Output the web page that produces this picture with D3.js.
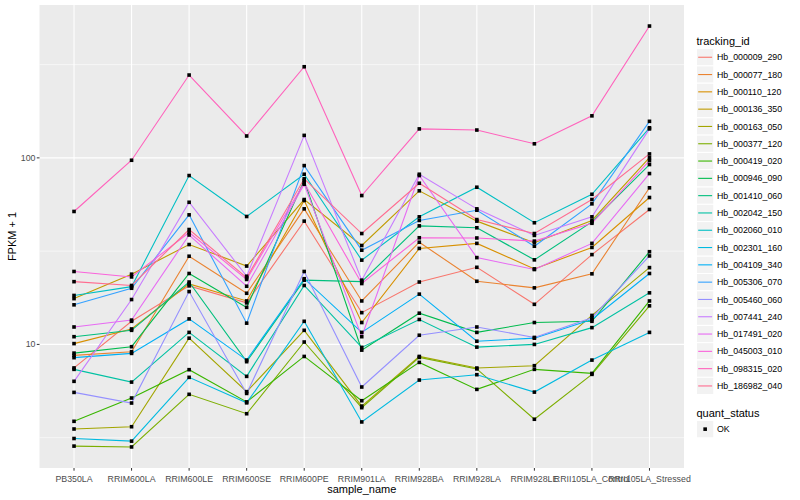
<!DOCTYPE html>
<html lang="en">
<head>
  <meta charset="UTF-8">
  <title>FPKM + 1 by sample</title>
  <script src="https://d3js.org/d3.v7.min.js"></script>
  <style>
    body { margin: 0; background: #fff; }
    text { font-family: "Liberation Sans", Arial, sans-serif; }
    .line { fill: none; stroke-width: 1.1px; }
  </style>
</head>
<body>
  <svg id="viz" width="800" height="500"></svg>

  <script>
    const samples = ["PB350LA", "RRIM600LA", "RRIM600LE", "RRIM600SE", "RRIM600PE", "RRIM901LA",
                     "RRIM928BA", "RRIM928LA", "RRIM928LE", "RRII105LA_Control", "RRII105LA_Stressed"];

    const trackingIds = ["Hb_000009_290", "Hb_000077_180", "Hb_000110_120", "Hb_000136_350", "Hb_000163_050",
                         "Hb_000377_120", "Hb_000419_020", "Hb_000946_090", "Hb_001410_060", "Hb_002042_150",
                         "Hb_002060_010", "Hb_002301_160", "Hb_004109_340", "Hb_005306_070", "Hb_005460_060",
                         "Hb_007441_240", "Hb_017491_020", "Hb_045003_010", "Hb_098315_020", "Hb_186982_040"];

    // ggplot default hue palette, 20 levels
    const lineColors = ["#F8766D", "#EA8331", "#D89000", "#C09B00", "#A3A500", "#7CAE00", "#39B600", "#00BB4E",
                        "#00BF7D", "#00C1A3", "#00BFC4", "#00BAE0", "#00B0F6", "#35A2FF", "#9590FF", "#C77CFF",
                        "#E76BF3", "#FA62DB", "#FF62BC", "#FF6C90"];

    // FPKM + 1, one row per tracking id, one column per sample
    const fpkm = [
      [7.48, 13.3, 20.6, 16.7, 45.8, 14.8, 21.6, 25.9, 16.4, 30.3, 52.9],
      [8.73, 9.14, 29.7, 18.8, 53.3, 17.1, 35.3, 21.8, 20.1, 23.9, 69.1],
      [10.1, 12.1, 21.1, 17.1, 59.1, 13.1, 32.7, 34.8, 25.4, 33.1, 61.3],
      [17.6, 23.8, 34.3, 26.3, 59.8, 33.9, 66.6, 45.8, 35.1, 46.2, 100.4],
      [3.52, 3.62, 10.8, 5.58, 11.9, 4.67, 8.62, 7.47, 7.69, 14.3, 25.8],
      [2.85, 2.82, 5.40, 4.25, 10.3, 4.58, 8.52, 7.39, 3.97, 6.91, 16.1],
      [3.87, 5.16, 7.32, 4.92, 8.62, 4.99, 8.01, 5.74, 7.35, 6.99, 17.1],
      [8.98, 9.72, 24.0, 15.8, 75.6, 9.32, 14.7, 11.6, 13.1, 13.3, 31.4],
      [11.0, 11.9, 21.6, 8.08, 22.1, 21.7, 43.2, 42.2, 28.4, 45.4, 92.1],
      [7.35, 6.28, 11.6, 6.74, 20.7, 9.64, 13.6, 9.67, 10.0, 12.3, 18.9],
      [18.3, 20.4, 80.4, 48.5, 81.7, 28.3, 48.3, 69.6, 44.9, 63.8, 145],
      [3.13, 3.03, 6.66, 4.86, 13.3, 3.84, 6.44, 6.88, 5.55, 8.24, 11.6],
      [8.49, 8.95, 13.7, 8.24, 22.5, 11.6, 18.6, 10.4, 10.8, 13.6, 24.0],
      [16.3, 20.0, 49.5, 13.0, 90.9, 32.0, 46.2, 52.4, 33.6, 56.7, 157],
      [5.53, 4.85, 19.2, 5.46, 24.6, 5.91, 11.2, 12.4, 10.9, 13.9, 29.8],
      [6.34, 17.4, 57.8, 23.2, 132, 22.1, 81.7, 53.3, 38.4, 48.3, 143],
      [12.4, 13.5, 38.6, 20.5, 72.2, 11.0, 80.4, 29.2, 25.2, 34.8, 82.4],
      [24.6, 23.0, 39.8, 22.3, 73.5, 21.2, 37.3, 37.2, 35.8, 44.6, 96.7],
      [51.6, 97.1, 278, 131, 308, 62.8, 143, 141, 119, 168, 509],
      [21.7, 20.7, 41.3, 22.8, 77.2, 39.3, 73.1, 46.7, 39.3, 59.8, 105]
    ];

    const statusLevels = ["OK"];
    const majorTicks = [10, 100];
    const minorTicks = [Math.pow(10, 0.5), Math.pow(10, 1.5), Math.pow(10, 2.5)];

    const svg = d3.select("#viz"),
          panel = { left: 39.5, right: 684, top: 5, bottom: 468 };

    // log scale with ggplot-style 5% expansion in log space
    const logs = fpkm.flat().map(Math.log10),
          lo = d3.min(logs), hi = d3.max(logs), pad = (hi - lo) * 0.05;

    const y = d3.scaleLog()
      .domain([Math.pow(10, lo - pad), Math.pow(10, hi + pad)])
      .range([panel.bottom, panel.top]);

    const x = d3.scalePoint()
      .domain(samples)
      .range([panel.left, panel.right])
      .padding(0.6);

    // panel background + grid
    svg.append("rect")
      .attr("x", panel.left).attr("y", panel.top)
      .attr("width", panel.right - panel.left).attr("height", panel.bottom - panel.top)
      .attr("fill", "#EBEBEB");

    svg.selectAll(".minor")
      .data(minorTicks)
      .enter().append("line")
      .attr("x1", panel.left).attr("x2", panel.right)
      .attr("y1", d => y(d)).attr("y2", d => y(d))
      .attr("stroke", "#fff").attr("stroke-width", 0.55);

    svg.selectAll(".major")
      .data(majorTicks)
      .enter().append("line")
      .attr("x1", panel.left).attr("x2", panel.right)
      .attr("y1", d => y(d)).attr("y2", d => y(d))
      .attr("stroke", "#fff").attr("stroke-width", 1.1);

    svg.selectAll(".vgrid")
      .data(samples)
      .enter().append("line")
      .attr("x1", d => x(d)).attr("x2", d => x(d))
      .attr("y1", panel.top).attr("y2", panel.bottom)
      .attr("stroke", "#fff").attr("stroke-width", 1.1);

    // lines
    const line = d3.line()
      .x((d, i) => x(samples[i]))
      .y(d => y(d));

    svg.selectAll(".line")
      .data(fpkm)
      .enter().append("path")
      .attr("class", "line")
      .attr("stroke", (d, i) => lineColors[i])
      .attr("d", line);

    // points (all quant_status OK)
    const pts = fpkm.flatMap(row => row.map((v, i) => ({ s: samples[i], v })));
    svg.selectAll(".pt")
      .data(pts)
      .enter().append("rect")
      .attr("x", d => x(d.s) - 1.8)
      .attr("y", d => y(d.v) - 1.8)
      .attr("width", 3.6).attr("height", 3.6)
      .attr("fill", "#000");

    // y axis
    const yAxis = svg.append("g");
    majorTicks.forEach(t => {
      yAxis.append("line")
        .attr("x1", panel.left - 2.7).attr("x2", panel.left)
        .attr("y1", y(t)).attr("y2", y(t))
        .attr("stroke", "#333").attr("stroke-width", 1);
      yAxis.append("text")
        .attr("x", panel.left - 4).attr("y", y(t))
        .attr("dy", "0.35em")
        .attr("text-anchor", "end")
        .attr("font-size", 8.8).attr("fill", "#4D4D4D")
        .text(t);
    });

    // x axis
    const xAxis = svg.append("g");
    samples.forEach(s => {
      xAxis.append("line")
        .attr("x1", x(s)).attr("x2", x(s))
        .attr("y1", panel.bottom).attr("y2", panel.bottom + 2.7)
        .attr("stroke", "#333").attr("stroke-width", 1);
      xAxis.append("text")
        .attr("x", x(s)).attr("y", panel.bottom + 13.5)
        .attr("text-anchor", "middle")
        .attr("font-size", 8.8).attr("fill", "#4D4D4D")
        .text(s);
    });

    svg.append("text")
      .attr("x", (panel.left + panel.right) / 2).attr("y", 493)
      .attr("text-anchor", "middle")
      .attr("font-size", 11)
      .text("sample_name");

    svg.append("text")
      .attr("transform", `translate(16,${(panel.top + panel.bottom) / 2}) rotate(-90)`)
      .attr("text-anchor", "middle")
      .attr("font-size", 11)
      .text("FPKM + 1");

    // legend: tracking_id
    const legX = 696.5, keySize = 17.3, legTop = 48.6;
    svg.append("text")
      .attr("x", legX).attr("y", 44.5)
      .attr("font-size", 11)
      .text("tracking_id");

    const keys = svg.selectAll(".key")
      .data(trackingIds)
      .enter().append("g")
      .attr("transform", (d, i) => `translate(${legX},${legTop + i * keySize})`);

    keys.append("rect")
      .attr("width", keySize).attr("height", keySize)
      .attr("fill", "#F2F2F2").attr("stroke", "#fff").attr("stroke-width", 1);

    keys.append("line")
      .attr("x1", 1.7).attr("x2", keySize - 1.7)
      .attr("y1", keySize / 2).attr("y2", keySize / 2)
      .attr("stroke", (d, i) => lineColors[i]).attr("stroke-width", 1.1);

    keys.append("text")
      .attr("x", keySize + 3.2).attr("y", keySize / 2)
      .attr("dy", "0.35em")
      .attr("font-size", 8.8)
      .text(d => d);

    // legend: quant_status
    svg.append("text")
      .attr("x", legX).attr("y", 416.5)
      .attr("font-size", 11)
      .text("quant_status");

    const sKeys = svg.selectAll(".skey")
      .data(statusLevels)
      .enter().append("g")
      .attr("transform", (d, i) => `translate(${legX},${420.5 + i * keySize})`);

    sKeys.append("rect")
      .attr("width", keySize).attr("height", keySize)
      .attr("fill", "#F2F2F2").attr("stroke", "#fff").attr("stroke-width", 1);

    sKeys.append("rect")
      .attr("x", keySize / 2 - 1.8).attr("y", keySize / 2 - 1.8)
      .attr("width", 3.6).attr("height", 3.6)
      .attr("fill", "#000");

    sKeys.append("text")
      .attr("x", keySize + 3.2).attr("y", keySize / 2)
      .attr("dy", "0.35em")
      .attr("font-size", 8.8)
      .text(d => d);
  </script>
</body>
</html>
